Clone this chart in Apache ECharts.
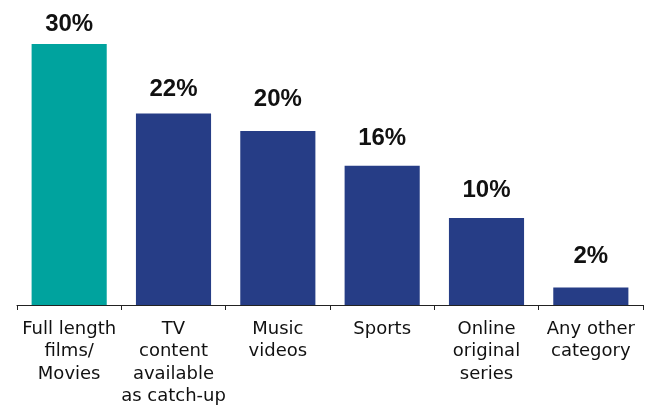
<!DOCTYPE html>
<html>
<head>
<meta charset="utf-8">
<script src="https://cdn.jsdelivr.net/npm/echarts@6/dist/echarts.min.js"></script>
<style>
  html, body { margin: 0; padding: 0; background: #fff; }
  #chart { width: 647px; height: 405px; }
</style>
</head>
<body>
<div id="chart"></div>
<script>
// Content categories and share of respondents (%)
const categories = [
  'Full length\nfilms/\nMovies',
  'TV\ncontent\navailable\nas catch-up',
  'Music\nvideos',
  'Sports',
  'Online\noriginal\nseries',
  'Any other\ncategory'
];
const shares = [30, 22, 20, 16, 10, 2];

// Styling per bar: fill colour and gap between the bar top and its value label (px)
const barColors = ['#00a39e', '#263d86', '#263d86', '#263d86', '#263d86', '#263d86'];
const labelGaps = [8, 12.5, 20, 15, 16, 19];

const chart = echarts.init(document.getElementById('chart'), null, { renderer: 'canvas' });
chart.setOption({
  animation: false,
  grid: { left: 17, right: 4, top: 44, bottom: 100, containLabel: false, outerBoundsMode: 'none' },
  xAxis: {
    type: 'category',
    data: categories,
    axisLine: { lineStyle: { color: '#222', width: 1 } },
    axisTick: { show: true, length: 5, lineStyle: { color: '#222' } },
    axisLabel: {
      interval: 0,
      color: '#111',
      fontFamily: 'DejaVu Sans',
      fontSize: 18,
      lineHeight: 22.5,
      margin: 13
    }
  },
  yAxis: {
    type: 'value',
    min: 0,
    max: 30,
    show: false,
    splitLine: { show: false }
  },
  series: [{
    type: 'bar',
    barWidth: '72%',
    data: shares.map((v, i) => ({
      value: v,
      itemStyle: { color: barColors[i] },
      label: { distance: labelGaps[i] }
    })),
    label: {
      show: true,
      position: 'top',
      formatter: p => p.value + '%',
      color: '#111',
      fontFamily: 'Liberation Sans',
      fontWeight: 'bold',
      fontSize: 24
    }
  }]
});
</script>
</body>
</html>
